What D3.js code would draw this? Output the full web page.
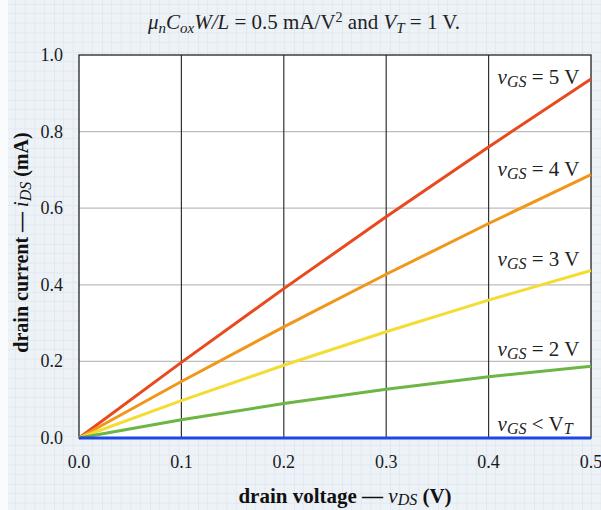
<!DOCTYPE html>
<html><head><meta charset="utf-8">
<script src="https://cdn.jsdelivr.net/npm/d3@7"></script>
<style>
html,body{margin:0;padding:0;background:#fff;}
svg{display:block;font-family:"Liberation Serif","DejaVu Serif",serif;}
</style></head>
<body>
<svg id="c" width="601" height="510"></svg>
<script>
const vds = [0, 0.1, 0.2, 0.3, 0.4, 0.5];
const id_vgs5 = [0, 0.1975, 0.39, 0.5775, 0.76, 0.9375];
const id_vgs4 = [0, 0.1475, 0.29, 0.4275, 0.56, 0.6875];
const id_vgs3 = [0, 0.0975, 0.19, 0.2775, 0.36, 0.4375];
const id_vgs2 = [0, 0.0475, 0.09, 0.1275, 0.16, 0.1875];
const id_off  = [0, 0, 0, 0, 0, 0];
const seriesNames = ["5 V", "4 V", "3 V", "2 V", "off"];
const seriesColors = ["#e84a1e", "#f2961a", "#f4dc34", "#6db545", "#1f47e6"];
const xTicks = [0, 0.1, 0.2, 0.3, 0.4, 0.5];
const yTicks = [0, 0.2, 0.4, 0.6, 0.8, 1.0];

const svg = d3.select("#c");
const W = 601, H = 510;
const m = {l: 79, r: 10, t: 55, b: 72};

// graph paper background
const defs = svg.append("defs");
const pat = defs.append("pattern").attr("id","paper").attr("patternUnits","userSpaceOnUse")
  .attr("width",48).attr("height",48).attr("x",6).attr("y",4);
pat.append("rect").attr("width",48).attr("height",48).attr("fill","#edf2f7");
for (let i=0;i<5;i++){
  const p = i*9.6;
  pat.append("line").attr("x1",p).attr("x2",p).attr("y1",0).attr("y2",48)
    .attr("stroke", i===0 ? "#d3dfeb" : "#e2e9f1").attr("stroke-width",1);
  pat.append("line").attr("y1",p).attr("y2",p).attr("x1",0).attr("x2",48)
    .attr("stroke", i===0 ? "#d3dfeb" : "#e2e9f1").attr("stroke-width",1);
}
svg.append("rect").attr("width",W).attr("height",H).attr("fill","url(#paper)");
svg.append("rect").attr("width",8).attr("height",H).attr("fill","#fafbfd");

const x = d3.scaleLinear().domain([0,0.5]).range([m.l, W - m.r]);
const y = d3.scaleLinear().domain([0,1]).range([H - m.b, m.t]);

// plot area
svg.append("rect").attr("x",x(0)).attr("y",y(1)).attr("width",x(0.5)-x(0)).attr("height",y(0)-y(1))
  .attr("fill","#fff");

// horizontal gridlines
svg.append("g").selectAll("line").data(yTicks.filter(d=>d>0 && d<1)).join("line")
  .attr("x1",x(0)).attr("x2",x(0.5)).attr("y1",d=>y(d)).attr("y2",d=>y(d))
  .attr("stroke","#bdbdbd").attr("stroke-width",1.2);
// vertical gridlines
svg.append("g").selectAll("line").data(xTicks.filter(d=>d>0 && d<0.5)).join("line")
  .attr("x1",d=>x(d)).attr("x2",d=>x(d)).attr("y1",y(0)).attr("y2",y(1))
  .attr("stroke","#333").attr("stroke-width",1.2);

// border
svg.append("rect").attr("x",x(0)).attr("y",y(1)).attr("width",x(0.5)-x(0)).attr("height",y(0)-y(1))
  .attr("fill","none").attr("stroke","#222").attr("stroke-width",1.3);

// tick labels
const fmt = d3.format(".1f");
svg.append("g").selectAll("text").data(yTicks).join("text")
  .attr("x", x(0) - 16).attr("y", d => y(d) + 6).attr("text-anchor","end")
  .style("font-family","'Liberation Serif', serif").style("font-size","18px").attr("fill","#1a1a1a")
  .text(d => fmt(d));
svg.append("g").selectAll("text").data(xTicks).join("text")
  .attr("x", d => x(d)).attr("y", y(0) + 30).attr("text-anchor","middle")
  .style("font-family","'Liberation Serif', serif").style("font-size","18px").attr("fill","#1a1a1a")
  .text(d => fmt(d));

// lines
const allSeries = [id_vgs5, id_vgs4, id_vgs3, id_vgs2, id_off];
const line = d3.line().x((d,i)=>x(vds[i])).y(d=>y(d));
svg.append("g").selectAll("path").data(allSeries).join("path")
  .attr("d", d=>line(d)).attr("fill","none")
  .attr("stroke",(d,i)=>seriesColors[i]).attr("stroke-width",3).attr("stroke-linecap","butt");

// series labels
const labelY = [0.94, 0.70, 0.465, 0.23, 0.035];
const lab = svg.append("g").attr("font-size",21).attr("fill","#222");
labelY.forEach((v,i)=>{
  const t = lab.append("text").attr("x", x(0.4) + 9).attr("y", y(v) + 6);
  t.append("tspan").attr("font-style","italic").text("v");
  t.append("tspan").attr("font-style","italic").attr("font-size",16).attr("dy",3).text("GS");
  if (i < 4) {
    t.append("tspan").attr("dy",-3).text(" = " + seriesNames[i]);
  } else {
    t.append("tspan").attr("dy",-3).text(" < V");
    t.append("tspan").attr("font-style","italic").attr("font-size",16).attr("dy",3).text("T");
  }
});

// title
const title = svg.append("text").attr("x",304).attr("y",29).attr("text-anchor","middle")
  .attr("font-size",21).attr("fill","#222");
title.append("tspan").attr("font-style","italic").text("μ");
title.append("tspan").attr("font-style","italic").attr("font-size",15).attr("dy",4).text("n");
title.append("tspan").attr("font-style","italic").attr("dy",-4).text("C");
title.append("tspan").attr("font-style","italic").attr("font-size",15).attr("dy",4).text("ox");
title.append("tspan").attr("font-style","italic").attr("dy",-4).text("W/L");
title.append("tspan").text(" = 0.5 mA/V");
title.append("tspan").attr("font-size",14).attr("dy",-7).text("2");
title.append("tspan").attr("dy",7).text(" and ");
title.append("tspan").attr("font-style","italic").text("V");
title.append("tspan").attr("font-style","italic").attr("font-size",15).attr("dy",4).text("T");
title.append("tspan").attr("dy",-4).text(" = 1 V.");

// x axis label
const xl = svg.append("text").attr("x",345).attr("y",503).attr("text-anchor","middle")
  .attr("font-size",21).attr("font-weight","bold").attr("fill","#111");
xl.append("tspan").text("drain voltage — ");
xl.append("tspan").attr("font-style","italic").attr("font-weight","normal").text("v");
xl.append("tspan").attr("font-style","italic").attr("font-weight","normal").attr("font-size",16).attr("dy",2).text("DS");
xl.append("tspan").attr("dy",-2).text(" (V)");

// y axis label
const yl = svg.append("text").attr("transform",`translate(28,${(y(0)+y(1))/2 - 4}) rotate(-90)`)
  .attr("text-anchor","middle").attr("font-size",20).attr("font-weight","bold").attr("fill","#111");
yl.append("tspan").text("drain current — ");
yl.append("tspan").attr("font-style","italic").attr("font-weight","normal").text("i");
yl.append("tspan").attr("font-style","italic").attr("font-weight","normal").attr("font-size",16).attr("dy",3).text("DS");
yl.append("tspan").attr("dy",-3).text(" (mA)");
</script>
</body></html>
